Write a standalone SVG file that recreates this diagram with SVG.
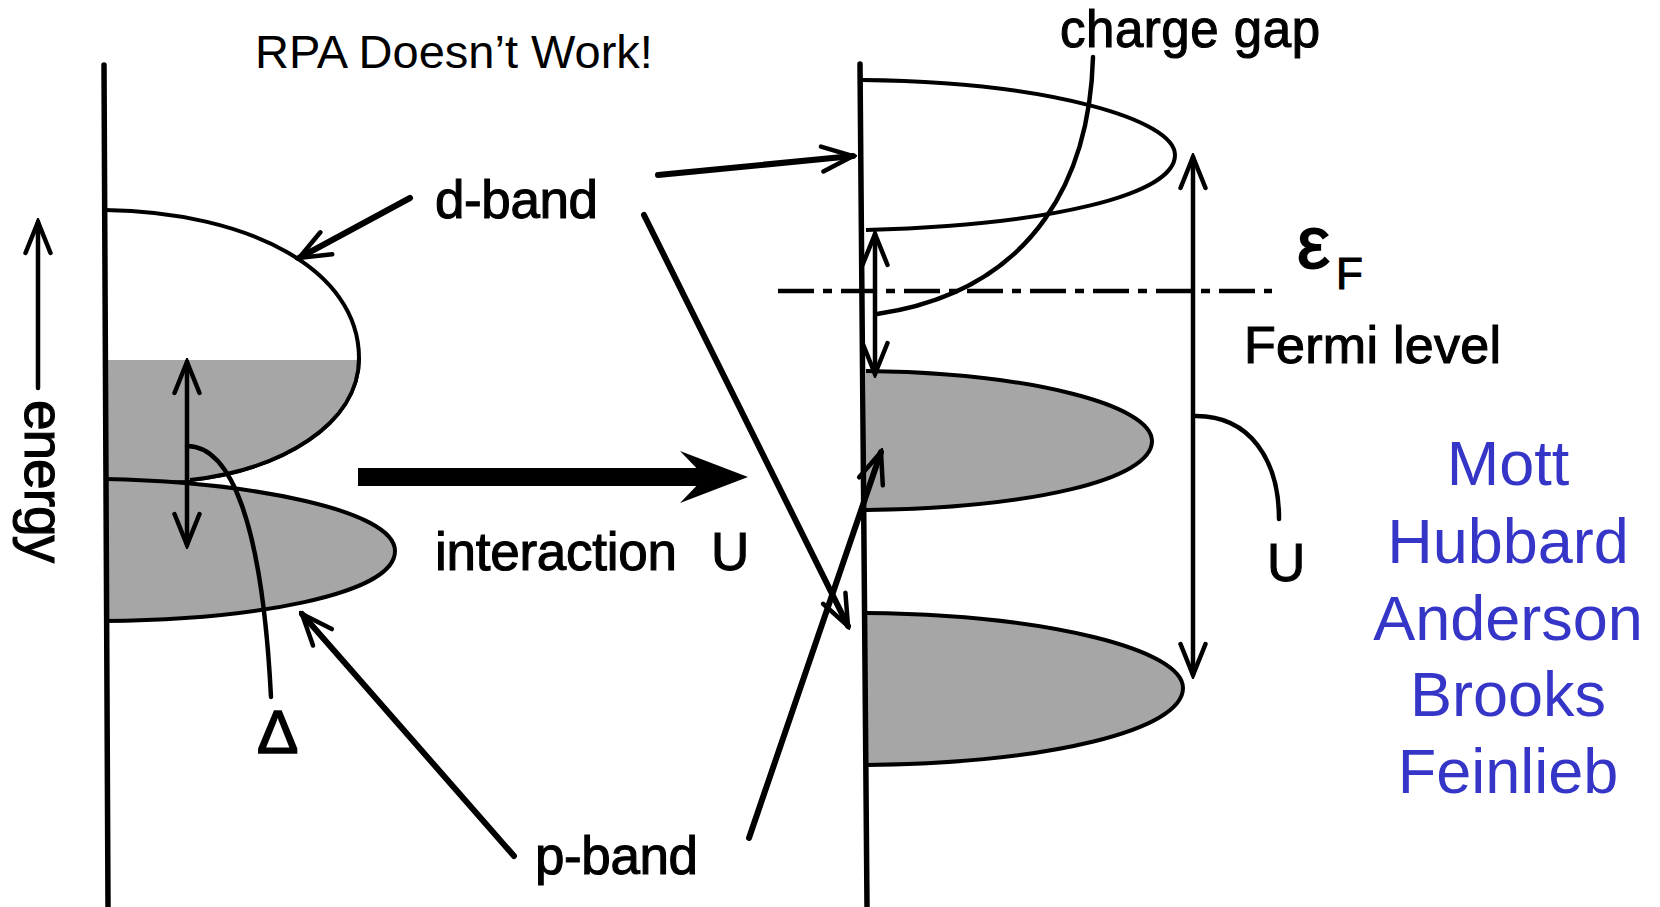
<svg xmlns="http://www.w3.org/2000/svg" width="1660" height="907" viewBox="0 0 1660 907">
  <style>
    .ln { fill: none; stroke: #000; stroke-linecap: round; }
    .w4 { stroke-width: 4.5; }
    .w5 { stroke-width: 5.5; }
    .w6 { stroke-width: 6; }
    .band { stroke: #000; stroke-width: 4; }
    .grey { fill: #a6a6a6; }
    .lbl { font-family: "Liberation Sans", Arial, Helvetica, sans-serif; fill: #000; }
    .scan { stroke: #000; stroke-width: 1.1px; }
    .name { font-family: "Liberation Sans", Arial, Helvetica, sans-serif; fill: #3535c8; font-size: 63px; text-anchor: middle; }
  </style>
  <defs>
    <marker id="vhead" markerUnits="userSpaceOnUse" viewBox="-38 -17 42 34" refX="0" refY="0" markerWidth="42" markerHeight="34" orient="auto-start-reverse">
      <path d="M-31,-12.5 L0,0 L-31,12.5" fill="none" stroke="#000" stroke-width="4.5" stroke-linecap="round" stroke-linejoin="miter"/>
    </marker>
  </defs>

  <rect width="1660" height="907" fill="#fff"/>

  <!-- title -->
  <text class="lbl" x="255" y="68" font-size="47">RPA Doesn’t Work!</text>

  <!-- energy axis -->
  <g id="energy-axis">
    <line class="ln w4" x1="38" y1="388" x2="38" y2="222" marker-end="url(#vhead)"/>
    <text class="lbl scan" transform="translate(25,400) rotate(90)" font-size="55" textLength="163">energy</text>
  </g>

  <!-- left panel: uncorrelated bands -->
  <g id="left-panel">
    <!-- d-band: white top, grey filled below the level -->
    <path class="band" fill="#fff" d="M105,210 C250,212 359,270 359,358 C359,425 280,470 190,480 L105,482"/>
    <path class="grey" d="M105,360 L359,360 C359,425 280,470 190,480 L105,482 Z"/>
    <path fill="none" class="band" d="M359,358 C359,425 280,470 190,480"/>
    <!-- p-band -->
    <path class="band grey" d="M105,479 C250,482 395,510 395,551 C395,595 250,620 105,621"/>
    <line class="ln w5" x1="104" y1="65" x2="108" y2="907"/>
  </g>

  <!-- right panel: Mott-Hubbard split bands -->
  <g id="right-panel">
    <path class="band" fill="#fff" d="M862,80 C1050,82 1175,120 1175,155 C1175,195 1050,225 866,230"/>
    <path class="band grey" d="M866,371 C1030,373 1152,405 1152,441 C1152,480 1030,508 866,510"/>
    <path class="band grey" d="M866,613 C1050,615 1183,650 1183,688 C1183,730 1050,763 866,765"/>
    <line class="ln w5" x1="860" y1="64" x2="867" y2="907"/>
  </g>

  <!-- Fermi level -->
  <g id="fermi-level">
    <line x1="778" y1="291" x2="1272" y2="291" stroke="#000" stroke-width="4.5" stroke-dasharray="36 9 9 9"/>
    <text class="lbl scan" x="1297" y="268" font-size="74" style="stroke-width:1.8px">ε</text>
    <text class="lbl scan" x="1336" y="289" font-size="44">F</text>
    <text class="lbl scan" x="1244" y="363" font-size="52" textLength="257">Fermi level</text>
  </g>

  <!-- labels -->
  <g id="labels">
    <text class="lbl scan" x="435" y="218" font-size="53" textLength="163">d-band</text>
    <text class="lbl scan" x="535" y="874" font-size="53" textLength="163">p-band</text>
    <text class="lbl scan" x="435" y="570" font-size="53" textLength="242">interaction</text>
    <text class="lbl scan" x="711" y="570" font-size="53">U</text>
    <text class="lbl scan" x="1060" y="47" font-size="51" textLength="260">charge gap</text>
    <text class="lbl scan" x="1267" y="581" font-size="53">U</text>
    <text class="lbl scan" x="257" y="753" font-size="62" style="stroke-width:1.6px">Δ</text>
  </g>

  <!-- connectors -->
  <g id="connectors">
    <!-- charge-transfer gap Δ -->
    <line class="ln w4" x1="187" y1="362" x2="187" y2="545" marker-start="url(#vhead)" marker-end="url(#vhead)"/>
    <path class="ln w4" d="M187,446 C230,446 262,520 271,697"/>
    <!-- d-band pointers -->
    <line class="ln w6" x1="410" y1="198" x2="299" y2="258" marker-end="url(#vhead)"/>
    <line class="ln w6" x1="658" y1="175" x2="853" y2="156" marker-end="url(#vhead)"/>
    <line class="ln w6" x1="644" y1="215" x2="848" y2="626" marker-end="url(#vhead)"/>
    <!-- p-band pointers -->
    <line class="ln w6" x1="514" y1="856" x2="302" y2="614" marker-end="url(#vhead)"/>
    <line class="ln w6" x1="749" y1="838" x2="881" y2="452" marker-end="url(#vhead)"/>
    <!-- interaction U -->
    <rect x="358" y="468" width="350" height="18" fill="#000"/>
    <polygon points="748,477 680,451 705,477 680,503" fill="#000"/>
    <!-- charge gap -->
    <line class="ln w4" x1="875" y1="234" x2="875" y2="374" marker-start="url(#vhead)" marker-end="url(#vhead)"/>
    <path class="ln w4" d="M1093,57 C1090,170 1040,290 877,314"/>
    <!-- Hubbard U -->
    <line class="ln w4" x1="1193" y1="157" x2="1193" y2="675" marker-start="url(#vhead)" marker-end="url(#vhead)"/>
    <path class="ln w4" d="M1196,416 C1250,416 1279,460 1279,519"/>
  </g>

  <!-- names -->
  <g id="names">
    <text class="name" x="1508" y="485">Mott</text>
    <text class="name" x="1508" y="563">Hubbard</text>
    <text class="name" x="1508" y="640">Anderson</text>
    <text class="name" x="1508" y="716">Brooks</text>
    <text class="name" x="1508" y="793">Feinlieb</text>
  </g>
</svg>
